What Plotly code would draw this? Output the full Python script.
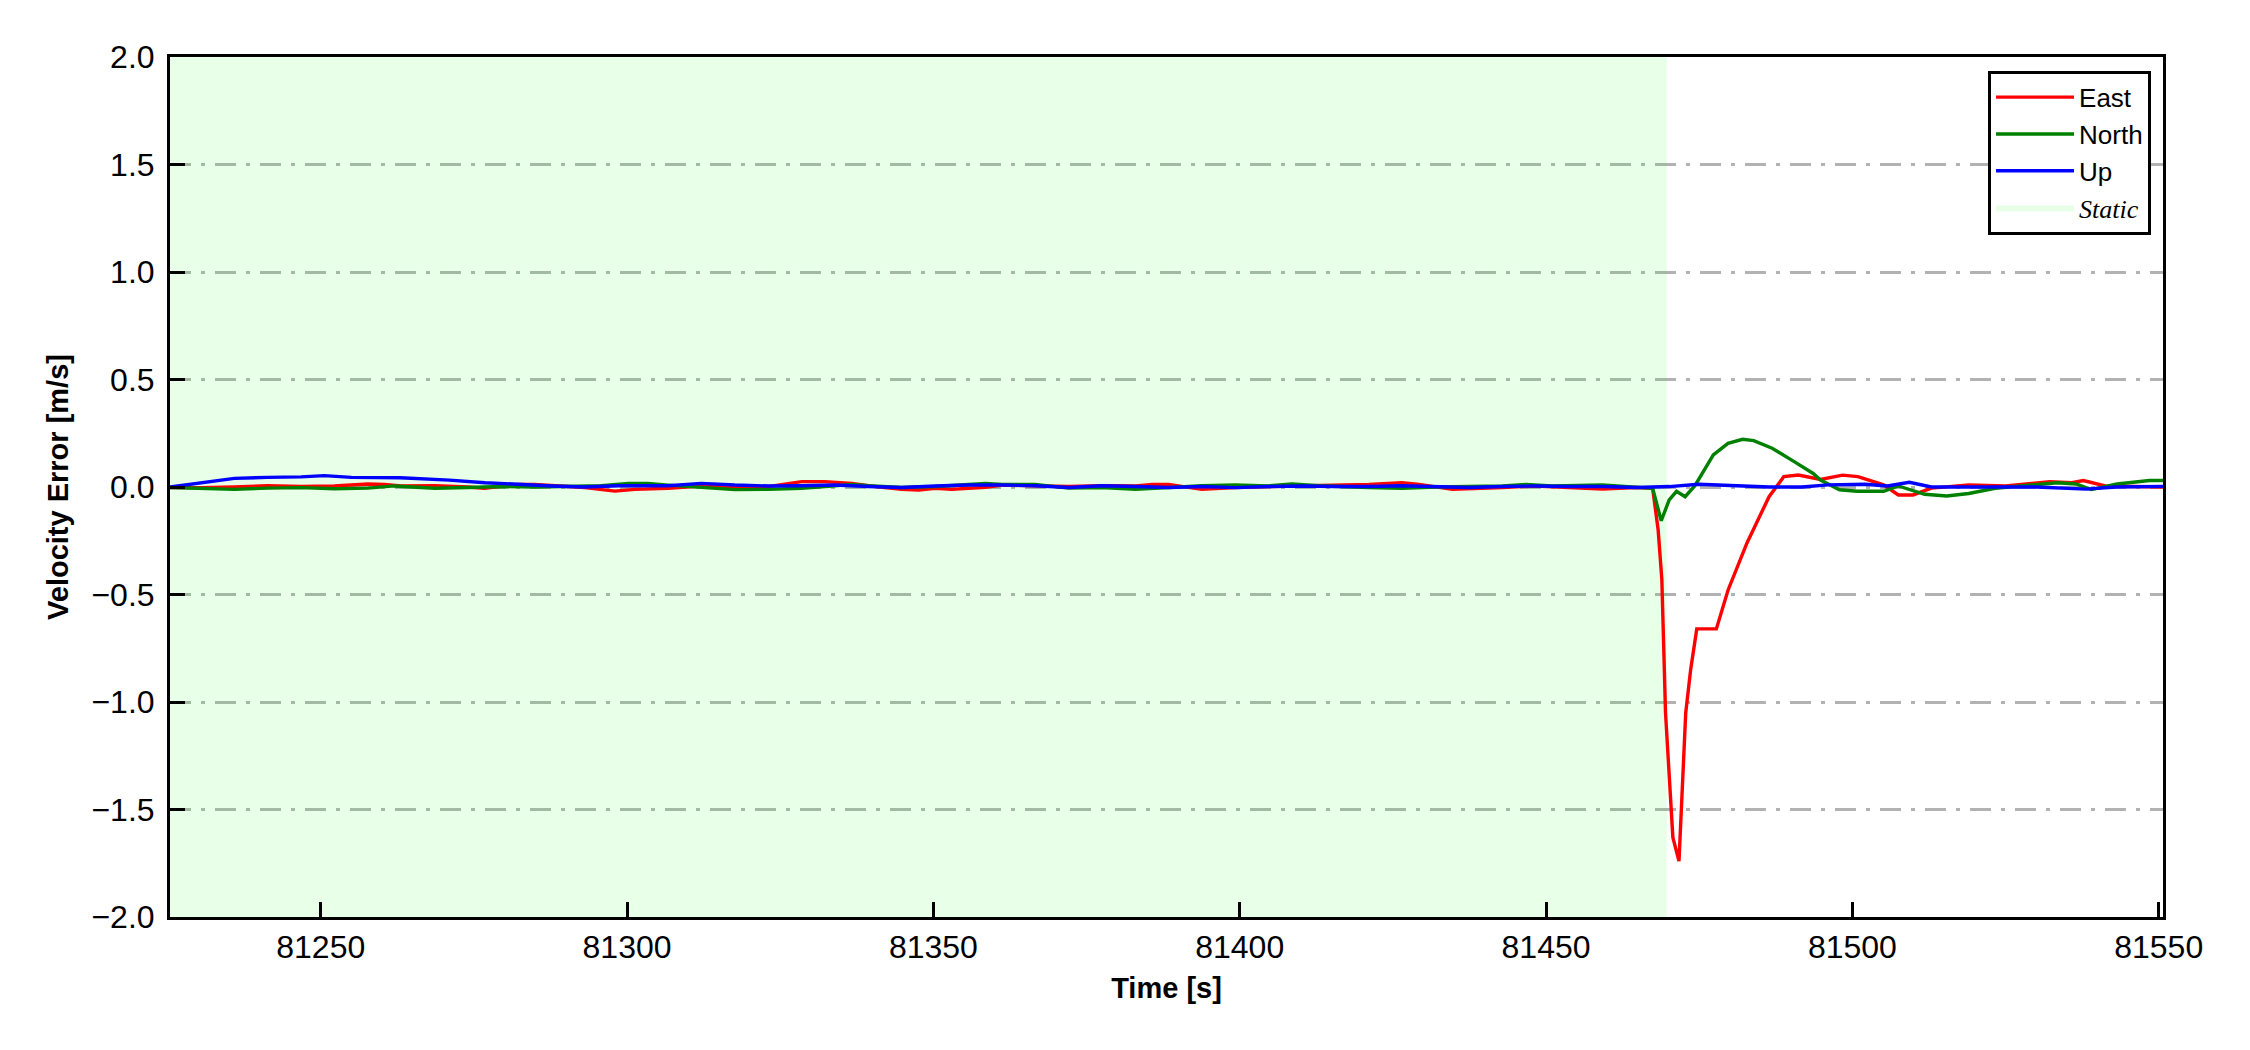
import plotly.graph_objects as go

# ---------------- data ----------------
t_east = [81225.4, 81230.4, 81235.9, 81241.3, 81246.8, 81252.2, 81257.7, 81260.4, 81263.1, 81268.6,
          81274.0, 81276.7, 81282.2, 81284.9, 81290.4, 81293.1, 81298.0, 81301.3, 81306.7, 81312.1,
          81317.6, 81323.0, 81328.5, 81332.3, 81336.7, 81339.4, 81344.8, 81347.6, 81350.3, 81353.0,
          81355.7, 81358.5, 81361.2, 81366.6, 81372.1, 81377.5, 81383.0, 81385.7, 81388.4, 81393.8,
          81399.3, 81404.7, 81410.2, 81415.6, 81421.1, 81426.5, 81429.3, 81434.7, 81437.4, 81442.9,
          81448.3, 81453.8, 81459.2, 81464.7, 81467.4, 81468.3, 81468.9, 81469.5, 81470.7, 81471.7,
          81472.8, 81473.6, 81474.6, 81477.8, 81479.7, 81482.8, 81486.4, 81488.8, 81491.2, 81494.8,
          81498.4, 81500.9, 81505.1, 81507.5, 81509.9, 81512.9, 81519.0, 81525.0, 81532.2, 81535.8,
          81537.7, 81541.3, 81550.7]
east = [-0.002, -0.003, 0.000, 0.006, 0.002, 0.005, 0.014, 0.012, 0.005, 0.006,
        0.000, -0.006, 0.012, 0.012, 0.002, -0.003, -0.019, -0.011, -0.006, 0.005,
        0.000, 0.002, 0.025, 0.025, 0.017, 0.006, -0.011, -0.014, -0.006, -0.011,
        -0.006, -0.002, 0.009, 0.006, 0.002, 0.006, 0.005, 0.012, 0.012, -0.011,
        -0.002, 0.002, 0.006, 0.009, 0.012, 0.020, 0.012, -0.011, -0.009, -0.002,
        0.005, -0.002, -0.009, -0.002, -0.006, -0.20, -0.43, -1.05, -1.63, -1.74,
        -1.05, -0.85, -0.66, -0.66, -0.48, -0.26, -0.045, 0.048, 0.056, 0.035,
        0.055, 0.048, 0.010, -0.037, -0.037, -0.005, 0.010, 0.005, 0.025, 0.020,
        0.030, 0.005, 0.000]

t_north = [81225.4, 81230.4, 81235.9, 81241.3, 81246.8, 81252.2, 81257.7, 81262.0, 81265.9, 81268.6,
           81274.0, 81279.5, 81284.9, 81295.8, 81300.2, 81303.4, 81306.7, 81312.1, 81317.6, 81323.0,
           81328.5, 81333.9, 81336.7, 81339.4, 81344.8, 81350.3, 81355.7, 81358.5, 81361.2, 81366.6,
           81372.1, 81377.5, 81383.0, 81388.4, 81393.8, 81399.3, 81404.7, 81408.5, 81412.9, 81421.1,
           81426.5, 81432.0, 81437.4, 81442.9, 81446.7, 81451.0, 81459.2, 81464.7, 81467.4, 81468.8,
           81470.1, 81471.3, 81472.7, 81474.3, 81477.3, 81479.7, 81482.1, 81483.9, 81486.9, 81490.5,
           81493.6, 81494.8, 81497.9, 81500.8, 81505.1, 81507.5, 81511.8, 81515.4, 81519.0, 81523.3,
           81529.9, 81533.5, 81536.5, 81539.0, 81543.2, 81548.5, 81550.7]
north = [-0.002, -0.005, -0.011, -0.005, -0.003, -0.008, -0.005, 0.005, -0.003, -0.006,
         -0.002, 0.002, 0.000, 0.006, 0.017, 0.017, 0.009, -0.003, -0.012, -0.011,
         -0.006, 0.006, 0.012, 0.006, -0.002, 0.002, 0.014, 0.017, 0.012, 0.012,
         -0.005, -0.003, -0.011, -0.003, 0.006, 0.009, 0.005, 0.014, 0.006, -0.002,
         -0.006, 0.000, 0.002, 0.005, 0.012, 0.005, 0.009, -0.002, -0.006, -0.157,
         -0.060, -0.020, -0.045, 0.006, 0.149, 0.203, 0.222, 0.216, 0.180, 0.118,
         0.063, 0.032, -0.013, -0.020, -0.020, 0.005, -0.034, -0.042, -0.030, -0.006,
         0.009, 0.020, 0.014, -0.012, 0.014, 0.030, 0.030]

t_up = [81225.4, 81230.4, 81235.9, 81241.3, 81246.8, 81250.6, 81255.0, 81263.0, 81271.0, 81276.8,
        81282.0, 81287.7, 81293.0, 81298.6, 81306.7, 81312.1, 81317.6, 81323.0, 81328.5, 81333.9,
        81339.4, 81344.8, 81350.3, 81355.7, 81361.2, 81366.6, 81372.1, 81377.5, 81383.0, 81388.4,
        81393.8, 81399.3, 81404.7, 81410.2, 81415.6, 81421.1, 81426.5, 81432.0, 81437.4, 81442.9,
        81448.3, 81453.8, 81459.2, 81464.7, 81470.1, 81474.9, 81478.6, 81486.4, 81491.8, 81496.0,
        81502.1, 81505.7, 81509.3, 81512.9, 81519.0, 81530.0, 81538.2, 81543.0, 81550.7]
up = [0.000, 0.020, 0.040, 0.045, 0.047, 0.053, 0.045, 0.043, 0.032, 0.020,
      0.012, 0.005, 0.000, 0.006, 0.006, 0.017, 0.009, 0.005, 0.006, 0.009,
      0.002, -0.002, 0.005, 0.009, 0.009, 0.006, -0.002, 0.006, 0.002, -0.002,
      0.002, -0.003, 0.002, 0.005, 0.002, 0.002, 0.006, 0.002, -0.002, 0.002,
      0.005, 0.002, 0.002, -0.002, 0.002, 0.013, 0.010, 0.000, 0.000, 0.010,
      0.013, 0.005, 0.022, 0.000, 0.000, 0.000, -0.010, 0.000, 0.003]

static_start = 81225.4
static_end = 81469.7

x_range = [81225.4, 81550.7]
y_range = [-2.0, 2.0]
x_ticks = [81250, 81300, 81350, 81400, 81450, 81500, 81550]
y_ticks = [-2.0, -1.5, -1.0, -0.5, 0.0, 0.5, 1.0, 1.5, 2.0]

# ---------------- figure ----------------
FONT = "Liberation Sans, Arial, sans-serif"
fig = go.Figure()

fig.add_trace(go.Scatter(
    x=[static_start, static_end, static_end, static_start, static_start],
    y=[y_range[0], y_range[0], y_range[1], y_range[1], y_range[0]],
    fill="toself", fillcolor="rgba(0,255,0,0.09)", mode="lines",
    line=dict(width=0, color="rgba(0,0,0,0)"),
    name='<span style="font-family:Liberation Serif, Times New Roman, serif"><i>Static</i></span>',
    legendrank=4, hoverinfo="skip"))

fig.add_trace(go.Scatter(x=t_east, y=east, mode="lines", name="East",
                         line=dict(color="#ff0000", width=3.4), legendrank=1))
fig.add_trace(go.Scatter(x=t_north, y=north, mode="lines", name="North",
                         line=dict(color="#008000", width=3.4), legendrank=2))
fig.add_trace(go.Scatter(x=t_up, y=up, mode="lines", name="Up",
                         line=dict(color="#0000ff", width=3.4), legendrank=3))

fig.update_layout(
    width=2250, height=1050,
    margin=dict(l=162, r=95, t=49, b=141),
    paper_bgcolor="white", plot_bgcolor="white",
    font=dict(family=FONT, size=32, color="black"),
    showlegend=True,
    legend=dict(x=0.994, y=0.984, xanchor="right", yanchor="top",
                bgcolor="white", bordercolor="black", borderwidth=3,
                font=dict(family=FONT, size=26, color="black"),
                tracegroupgap=0, itemwidth=78),
)

fig.update_xaxes(
    range=x_range, tickvals=x_ticks, tickformat="d",
    showgrid=False, zeroline=False,
    showline=True, linecolor="black", linewidth=3, mirror=True,
    ticks="inside", ticklen=15, tickwidth=3, tickcolor="black",
    tickfont=dict(family=FONT, size=32),
    title=dict(text="<b>Time [s]</b>", font=dict(family=FONT, size=29), standoff=14),
)
fig.update_yaxes(
    range=y_range, tickvals=y_ticks, tickformat=".1f",
    showgrid=True, gridcolor="#b2b2b2", gridwidth=3, griddash="21px,10px,4px,10px",
    zeroline=False,
    showline=True, linecolor="black", linewidth=3, mirror=True,
    ticks="inside", ticklen=15, tickwidth=3, tickcolor="black",
    tickfont=dict(family=FONT, size=32), ticklabelstandoff=6,
    title=dict(text="<b>Velocity Error [m/s]</b>", font=dict(family=FONT, size=29), standoff=15),
)

fig.write_html("out.html")
